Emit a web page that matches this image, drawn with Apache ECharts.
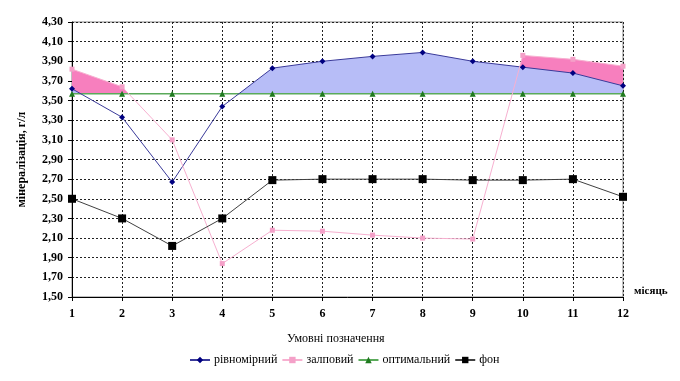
<!DOCTYPE html>
<html><head><meta charset="utf-8">
<script src="https://cdn.jsdelivr.net/npm/echarts@6/dist/echarts.min.js"></script>
<style>html,body{margin:0;padding:0;background:#fff}#c{width:680px;height:381px}</style>
</head><body><div id="c"></div>
<script>
const months = [1,2,3,4,5,6,7,8,9,10,11,12];
const rivnomirnyi = [3.62,3.33,2.67,3.44,3.83,3.90,3.95,3.99,3.90,3.84,3.78,3.65];
const zalpovyi   = [3.82,3.64,3.10,1.84,2.18,2.17,2.13,2.10,2.09,3.96,3.92,3.85];
const optymalnyi = [3.57,3.57,3.57,3.57,3.57,3.57,3.57,3.57,3.57,3.57,3.57,3.57];
const fon        = [2.50,2.30,2.02,2.30,2.69,2.70,2.70,2.70,2.69,2.69,2.70,2.52];
const yTicks = {min:1.5, max:4.3, step:0.2};
const seriesNames = ['рівномірний','залповий','оптимальний','фон'];

function pairs(v){ return months.map((m,i)=>[m,v[i]]); }
function abovePoints(vals){
  const pts=[];
  for(let i=0;i<vals.length;i++){
    const x=months[i], d=vals[i]-optymalnyi[i];
    if(i>0){
      const dp=vals[i-1]-optymalnyi[i-1];
      if(dp*d<0){
        const t=dp/(dp-d);
        pts.push([months[i-1]+t*(x-months[i-1]), optymalnyi[i-1]+t*(optymalnyi[i]-optymalnyi[i-1])]);
      }
    }
    pts.push([x, Math.max(vals[i], optymalnyi[i])]);
  }
  return pts;
}
const font='Liberation Serif';
const chart = echarts.init(document.getElementById('c'));
chart.setOption({
  animation:false,
  backgroundColor:'#fff',
  textStyle:{fontFamily:font},
  title:{text:'Умовні позначення', left:282, top:328,
    textStyle:{fontFamily:font, fontSize:12, fontWeight:'normal', color:'#000'}},
  legend:{data:seriesNames, top:349, left:184, itemWidth:20, itemHeight:8, itemGap:4,
    textStyle:{fontFamily:font, fontSize:12, color:'#000', padding:[0,0,0,-1]}},
  grid:{left:72, right:57, top:22, bottom:84, show:true, borderColor:'#808080', borderWidth:1},
  xAxis:{type:'value', min:1, max:12, interval:1,
    axisLine:{lineStyle:{color:'#000'}},
    axisTick:{show:true, length:4, lineStyle:{color:'#000'}},
    axisLabel:{fontFamily:font, fontSize:12, fontWeight:'bold', color:'#000', margin:11},
    splitLine:{show:true, lineStyle:{color:'#222', type:[2,2], width:1}}},
  yAxis:{type:'value', min:yTicks.min, max:yTicks.max, interval:yTicks.step,
    name:'мінералізація, г/л', nameLocation:'middle', nameGap:44,
    nameTextStyle:{fontFamily:font, fontSize:12, fontWeight:'bold', color:'#000'},
    axisLine:{show:true, lineStyle:{color:'#000'}},
    axisTick:{show:true, length:4, lineStyle:{color:'#000'}},
    axisLabel:{fontFamily:font, fontSize:12, fontWeight:'bold', color:'#000', margin:9,
      formatter:v=>v.toFixed(2).replace('.',',')},
    splitLine:{show:true, lineStyle:{color:'#222', type:[2,2], width:1}}},
  graphic:[{type:'text', left:634, top:286, style:{text:'місяць', font:'bold 11px "Liberation Serif"', fill:'#000'}}],
  series:[
    {type:'line', name:'fillPink', data:abovePoints(zalpovyi), symbol:'none', silent:true,
      lineStyle:{width:0}, areaStyle:{color:'#f77fbe', opacity:1, origin:optymalnyi[0]}, z:1},
    {type:'line', name:'fillBlue', data:abovePoints(rivnomirnyi), symbol:'none', silent:true,
      lineStyle:{width:0}, areaStyle:{color:'#b7bdf7', opacity:1, origin:optymalnyi[0]}, z:2},
    {type:'line', name:'оптимальний', data:pairs(optymalnyi), symbol:'triangle', symbolSize:6,
      itemStyle:{color:'#1f7a1f'}, lineStyle:{color:'#5aaa5a', width:1.5}, z:3},
    {type:'line', name:'рівномірний', data:pairs(rivnomirnyi), symbol:'diamond', symbolSize:6,
      itemStyle:{color:'#000080'}, lineStyle:{color:'#3a3a9a', width:1}, z:4},
    {type:'line', name:'залповий', data:pairs(zalpovyi), symbol:'rect', symbolSize:5,
      itemStyle:{color:'#f4a0c8'}, lineStyle:{color:'#f7b0d0', width:1}, z:5},
    {type:'line', name:'фон', data:pairs(fon), symbol:'rect', symbolSize:8,
      itemStyle:{color:'#000'}, lineStyle:{color:'#404040', width:1}, z:6}
  ]
});
</script></body></html>
